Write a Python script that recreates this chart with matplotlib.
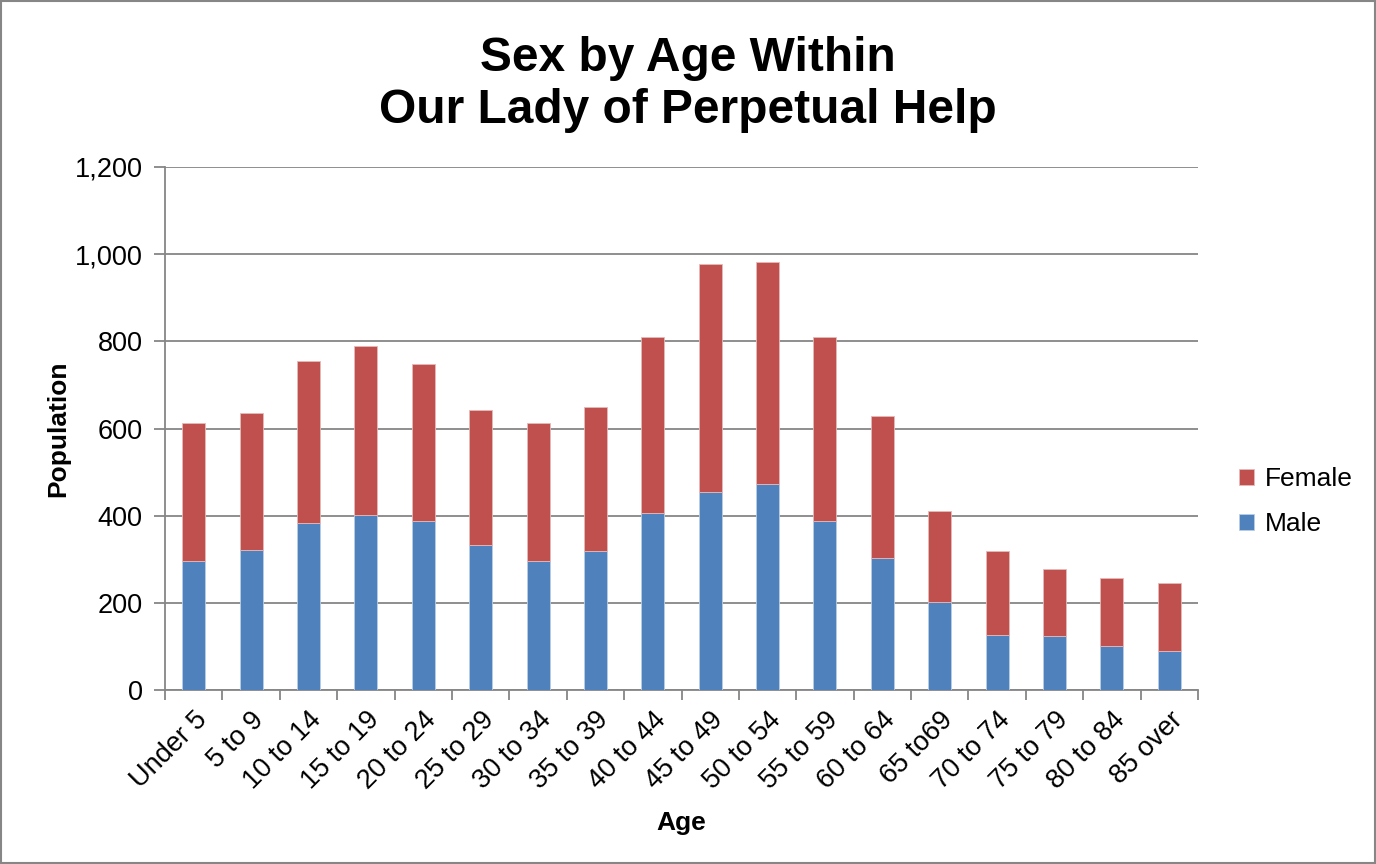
import matplotlib.pyplot as plt
from matplotlib.patches import Rectangle
from matplotlib.ticker import FuncFormatter
import numpy as np

plt.rcParams['font.family'] = ['Liberation Sans', 'DejaVu Sans']

# Values
ages = ['Under 5', '5 to 9', '10 to 14', '15 to 19', '20 to 24', '25 to 29',
        '30 to 34', '35 to 39', '40 to 44', '45 to 49', '50 to 54', '55 to 59',
        '60 to 64', '65 to69', '70 to 74', '75 to 79', '80 to 84', '85 over']
male = [295, 322, 384, 402, 387, 333, 297, 319, 405, 454, 472, 387,
        303, 201, 126, 125, 102, 90]
female = [318, 313, 371, 387, 360, 310, 316, 331, 404, 524, 509, 423,
          325, 209, 193, 153, 156, 155]

blue = '#4F81BD'
red = '#C0504D'
grey = '#868686'

fig = plt.figure(figsize=(13.76, 8.64), dpi=100)
ax = fig.add_axes([165 / 1376, 1 - 690 / 864, (1198 - 165) / 1376, (690 - 167) / 864])

x = np.arange(len(ages))
ax.bar(x, male, width=0.4, color=blue, edgecolor='#B9CDE5', linewidth=0.6, label='Male', zorder=3)
ax.bar(x, female, width=0.4, bottom=male, color=red, edgecolor='#E6B9B8', linewidth=0.6,
       label='Female', zorder=3)

ax.set_xlim(-0.5, len(ages) - 0.5)
ax.set_ylim(0, 1200)
ax.set_yticks(range(0, 1201, 200))
ax.yaxis.set_major_formatter(FuncFormatter(lambda v, p: f'{int(v):,}'))
ax.grid(axis='y', color=grey, linewidth=1.3, zorder=0)

ax.set_xticks(x)
ax.set_xticklabels(ages, rotation=45, ha='right', rotation_mode='anchor', fontsize=19.5)
ax.set_xticks(np.arange(-0.5, len(ages)), minor=True)
ax.tick_params(axis='x', which='major', length=0, pad=12)
ax.tick_params(axis='x', which='minor', length=7, color=grey, width=1.3)
ax.tick_params(axis='y', length=8, color=grey, width=1.3, labelsize=19.5, pad=8)

for side in ['top', 'right']:
    ax.spines[side].set_visible(False)
for side in ['left', 'bottom']:
    ax.spines[side].set_color(grey)
    ax.spines[side].set_linewidth(1.3)

ax.set_xlabel('Age', fontsize=19, fontweight='bold', labelpad=12)
ax.set_ylabel('Population', fontsize=19, fontweight='bold', labelpad=3)

fig.suptitle('Sex by Age Within\nOur Lady of Perpetual Help', fontsize=34.5,
             fontweight='bold', y=1 - 36 / 864, va='top', linespacing=1.2)

handles, labels = ax.get_legend_handles_labels()
ax.legend(handles[::-1], labels[::-1], loc='center left', bbox_to_anchor=(1.017, 0.36),
          frameon=False, fontsize=19, handlelength=0.55, handleheight=0.55,
          handletextpad=0.4, labelspacing=0.8)

fig.patches.append(Rectangle((0.001, 0.001), 0.998, 0.998, transform=fig.transFigure,
                             fill=False, edgecolor=grey, linewidth=1.5))

plt.savefig('out.png', dpi=100)
plt.close()
